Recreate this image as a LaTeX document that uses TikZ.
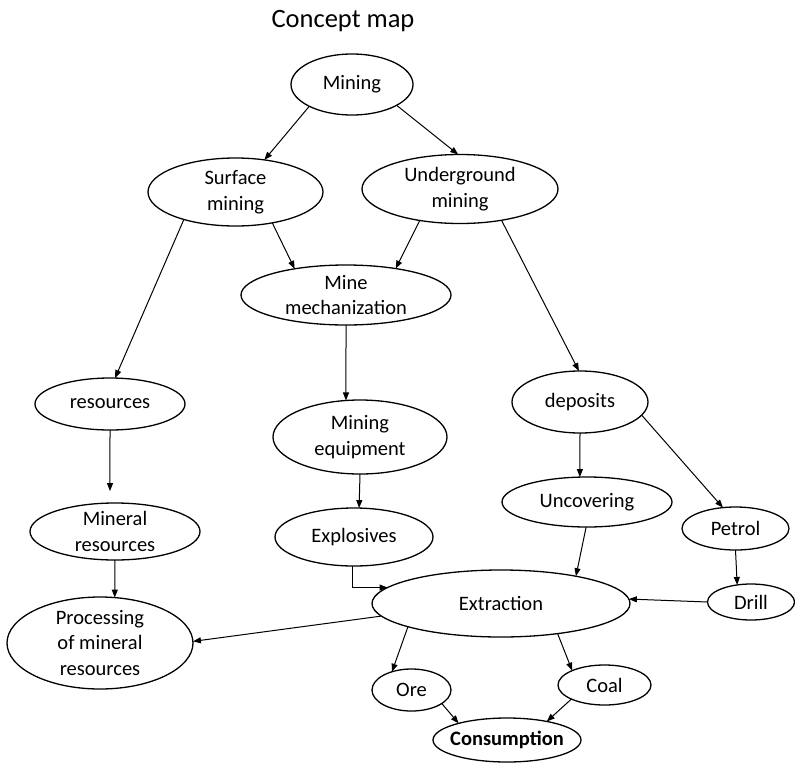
\documentclass[tikz,border=0pt]{standalone}
\usepackage{fontspec}
\setmainfont{Carlito}
\usetikzlibrary{shapes.geometric,arrows.meta}
\begin{document}
\begin{tikzpicture}[x=1pt,y=-1pt,
  ell/.style={ellipse,draw,line width=1.3pt,inner sep=-10pt,outer sep=0pt,align=center,
    font=\fontsize{20.5}{25.5}\selectfont},
  conn/.style={line width=1pt,-{Triangle[length=8pt,width=6pt]}}]
\useasboundingbox (0,0) rectangle (795,763);
\node[anchor=base,font=\fontsize{26.5}{30}\selectfont] (title) at (343,27) {Concept map};
\node[ell,minimum width=122pt,minimum height=61pt] (mining) at (352,84.5) {Mining};
\node[ell,minimum width=175pt,minimum height=68pt] (surface) at (235.5,192) {Surface\\mining};
\node[ell,minimum width=196pt,minimum height=69pt] (under) at (460,189) {Underground\\mining};
\node[ell,minimum width=210pt,minimum height=60pt] (mech) at (346,295) {Mine\\mechanization};
\node[ell,minimum width=150pt,minimum height=52pt] (res) at (110,404) {resources};
\node[ell,minimum width=174pt,minimum height=74pt] (equip) at (360,437) {Mining\\equipment};
\node[ell,minimum width=136pt,minimum height=62pt] (deposits) at (580,402) {deposits};
\node[ell,minimum width=170pt,minimum height=57pt] (mineral) at (115,531.5) {Mineral\\resources};
\node[ell,minimum width=158pt,minimum height=58pt] (expl) at (354,537) {Explosives};
\node[ell,minimum width=170pt,minimum height=50pt] (uncov) at (587,502) {Uncovering};
\node[ell,minimum width=107pt,minimum height=43pt] (petrol) at (735.5,528.5) {Petrol};
\node[ell,minimum width=258pt,minimum height=67pt] (extr) at (501,603.5) {Extraction};
\node[ell,minimum width=87pt,minimum height=36pt] (drill) at (751,602) {Drill};
\node[ell,minimum width=186pt,minimum height=92pt] (proc) at (100,643) {Processing\\of mineral\\resources};
\node[ell,minimum width=79pt,minimum height=42pt] (ore) at (411.5,690) {Ore};
\node[ell,minimum width=93pt,minimum height=40pt] (coal) at (604.5,685) {Coal};
\node[ell,minimum width=148pt,minimum height=44pt,font=\fontsize{20.5}{25.5}\selectfont\bfseries] (cons) at (507,740) {Consumption};

\draw[conn] (mining.207) -- (surface.48);
\draw[conn] (mining.-25) -- (under.93);
\draw[conn] (surface.208) -- (res.79);
\draw[conn] (surface.-40) -- (mech.153);
\draw[conn] (under.218) -- (mech.28);
\draw[conn] (under.-37) -- (deposits.92);
\draw[conn] (mech.-90) -- (equip.111);
\draw[conn,shorten >=12pt] (res.-90) -- (mineral.100);
\draw[conn] (deposits.-90) -- (uncov.106);
\draw[conn] (deposits.-12) -- (petrol.121);
\draw[conn] (equip.-90) -- (expl.80);
\draw[conn] (mineral.-90) -- (proc.72);
\draw[conn] (expl.-92) |- (extr.172);
\draw[conn] (uncov.-92) -- (extr.20);
\draw[conn] (petrol.-90) -- (drill.129);
\draw[conn] (drill.180) -- (extr.2);
\draw[conn] (extr.186) -- (proc.1);
\draw[conn] (extr.194) -- (ore.137);
\draw[conn] (extr.-28) -- (coal.156);
\draw[conn] (ore.-24) -- (cons.161);
\draw[conn] (coal.203) -- (cons.25);
\end{tikzpicture}
\end{document}
